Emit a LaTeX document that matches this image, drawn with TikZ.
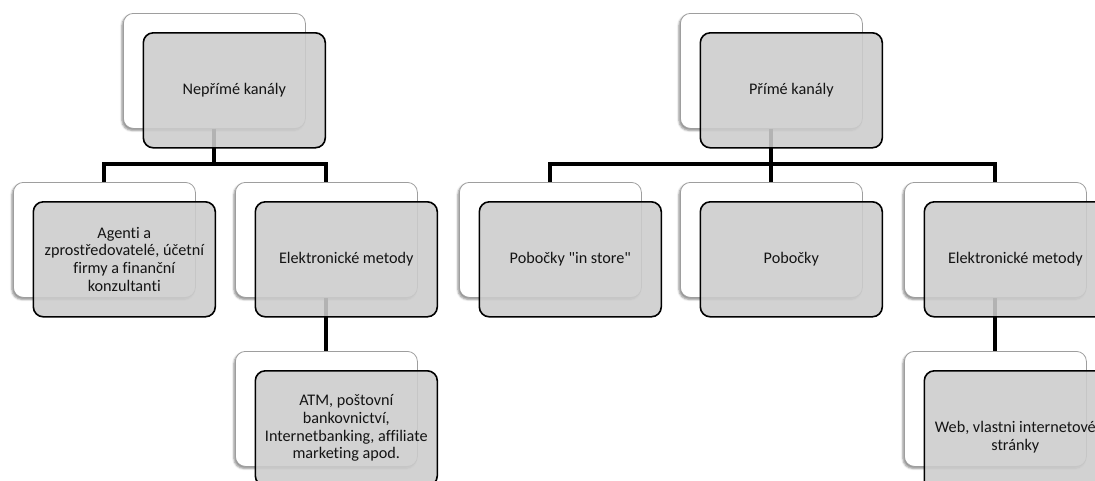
\documentclass[tikz,border=0pt]{standalone}
\usepackage{fontspec}
\setmainfont{Carlito}[Ligatures={NoCommon,TeXOff}]
\usetikzlibrary{shadows.blur}
\definecolor{boxgray}{gray}{0.80}
\definecolor{backline}{gray}{0.62}
\begin{document}
\begin{tikzpicture}[x=1pt,y=-1pt,
    backbox/.style={draw=backline,line width=0.8pt,fill=white,rounded corners=10pt,
      minimum width=182pt,minimum height=115pt,inner sep=0pt,anchor=north west,
      blur shadow={shadow xshift=-1.5pt,shadow yshift=-2pt,shadow blur radius=2pt,shadow opacity=45}},
    frontbox/.style={draw=black,line width=1.6pt,fill=boxgray,fill opacity=0.88,text opacity=1,
      rounded corners=10pt,minimum width=182pt,minimum height=115pt,inner sep=0pt,
      anchor=north west,align=center,text=black!92,font=\fontsize{16.2}{17.7}\selectfont},
    link/.style={line width=4pt,black}]
  \useasboundingbox (0,0) rectangle (1095,480);
  \clip (0,0) rectangle (1095,480);
  % back boxes
  \node[backbox] (nepB) at (123,13) {};
  \node[backbox] (agB) at (13,182) {};
  \node[backbox] (elB) at (235,182) {};
  \node[backbox] (atmB) at (235,351) {};
  \node[backbox] (priB) at (680,13) {};
  \node[backbox] (storeB) at (459,182) {};
  \node[backbox] (pobB) at (680,182) {};
  \node[backbox] (elwB) at (904,182) {};
  \node[backbox] (webB) at (904,351) {};
  % connectors
  \draw[link] (nepB.south) |- ([yshift=18pt]agB.north) -- (agB.north);
  \draw[link] (nepB.south) |- ([yshift=18pt]elB.north) -- (elB.north);
  \draw[link] (elB.south) -- (atmB.north);
  \draw[link] (priB.south) |- ([yshift=18pt]storeB.north) -- (storeB.north);
  \draw[link] (priB.south) -- (pobB.north);
  \draw[link] (priB.south) |- ([yshift=18pt]elwB.north) -- (elwB.north);
  \draw[link] (elwB.south) -- (webB.north);
  % front boxes
  \node[frontbox] (nep) at ([shift={(19.5,19)}]nepB.north west) {Nepřímé kanály};
  \node[frontbox] (ag) at ([shift={(19.5,19)}]agB.north west) {Agenti a\\zprostředovatelé, účetní\\firmy a finanční\\konzultanti};
  \node[frontbox] (el) at ([shift={(19.5,19)}]elB.north west) {Elektronické metody};
  \node[frontbox] (atm) at ([shift={(19.5,19)}]atmB.north west) {ATM, poštovní\\bankovnictví,\\Internetbanking, affiliate\\marketing apod.};
  \node[frontbox] (pri) at ([shift={(19.5,19)}]priB.north west) {Přímé kanály};
  \node[frontbox] (store) at ([shift={(19.5,19)}]storeB.north west) {Pobočky "in store"};
  \node[frontbox] (pob) at ([shift={(19.5,19)}]pobB.north west) {Pobočky};
  \node[frontbox] (elw) at ([shift={(19.5,19)}]elwB.north west) {Elektronické metody};
  \node[frontbox,minimum height=133pt] (web) at ([shift={(19.5,19)}]webB.north west) {Web, vlastni internetové\\stránky};
\end{tikzpicture}
\end{document}
